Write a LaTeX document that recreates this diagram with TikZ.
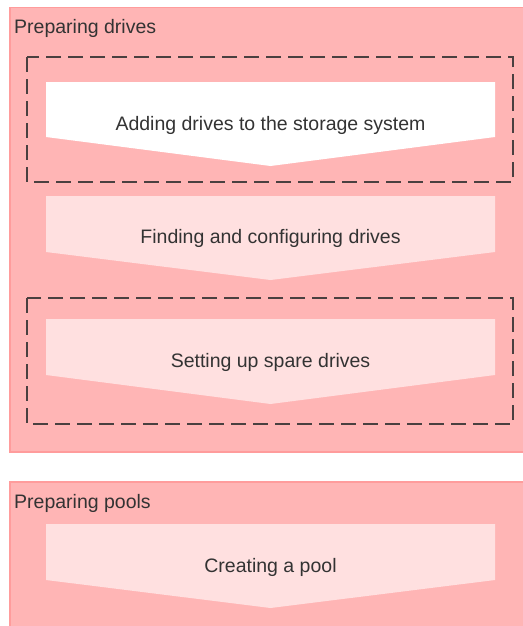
\documentclass[tikz,border=0pt]{standalone}
\usepackage{fontspec}
\setmainfont{Liberation Sans}
\definecolor{boxfill}{HTML}{FFB5B5}
\definecolor{boxline}{HTML}{FF9C9C}
\definecolor{lightarrow}{HTML}{FFE0E0}
\definecolor{dashcol}{HTML}{4A4040}
\definecolor{txt}{HTML}{333333}
\begin{document}
\begin{tikzpicture}[x=1pt,y=-1pt,
  phase/.style={fill=boxfill,draw=boxline,line width=1.2pt},
  dashbox/.style={draw=dashcol,line width=2.2pt,dash pattern=on 15pt off 7pt},
  steparrow/.style={fill=lightarrow,draw=none},
  firstarrow/.style={fill=white,draw=none},
  lbl/.style={font=\fontsize{19.5}{22}\selectfont,text=txt,inner sep=0pt}]
\useasboundingbox (0,0) rectangle (522,626);
\fill[white] (0,0) rectangle (522,626);
% phase boxes
\draw[phase] (10,7.5) rectangle (530,452);
\draw[phase] (10,482) rectangle (530,640);
% dashed boxes
\draw[dashbox] (27,57) rectangle (513,182);
\draw[dashbox] (27,298) rectangle (513,424);
% arrows
\fill[firstarrow] (46,82) -- (495,82) -- (495,137) -- (270.5,166) -- (46,137) -- cycle;
\fill[steparrow] (46,196) -- (495,196) -- (495,252) -- (270.5,280) -- (46,252) -- cycle;
\fill[steparrow] (46,319) -- (495,319) -- (495,375) -- (270.5,404) -- (46,375) -- cycle;
\fill[steparrow] (46,524) -- (495,524) -- (495,580) -- (270.5,608) -- (46,580) -- cycle;
% labels
\node[lbl,anchor=base west] (pd) at (14,34) {Preparing drives};
\node[lbl,anchor=base west] (pp) at (14,508) {Preparing pools};
\node[lbl,anchor=base] (s1) at (270.5,130) {Adding drives to the storage system};
\node[lbl,anchor=base] (s2) at (270.5,243) {Finding and configuring drives};
\node[lbl,anchor=base] (s3) at (270.5,367) {Setting up spare drives};
\node[lbl,anchor=base] (s4) at (270.5,572) {Creating a pool};
\end{tikzpicture}
\end{document}
